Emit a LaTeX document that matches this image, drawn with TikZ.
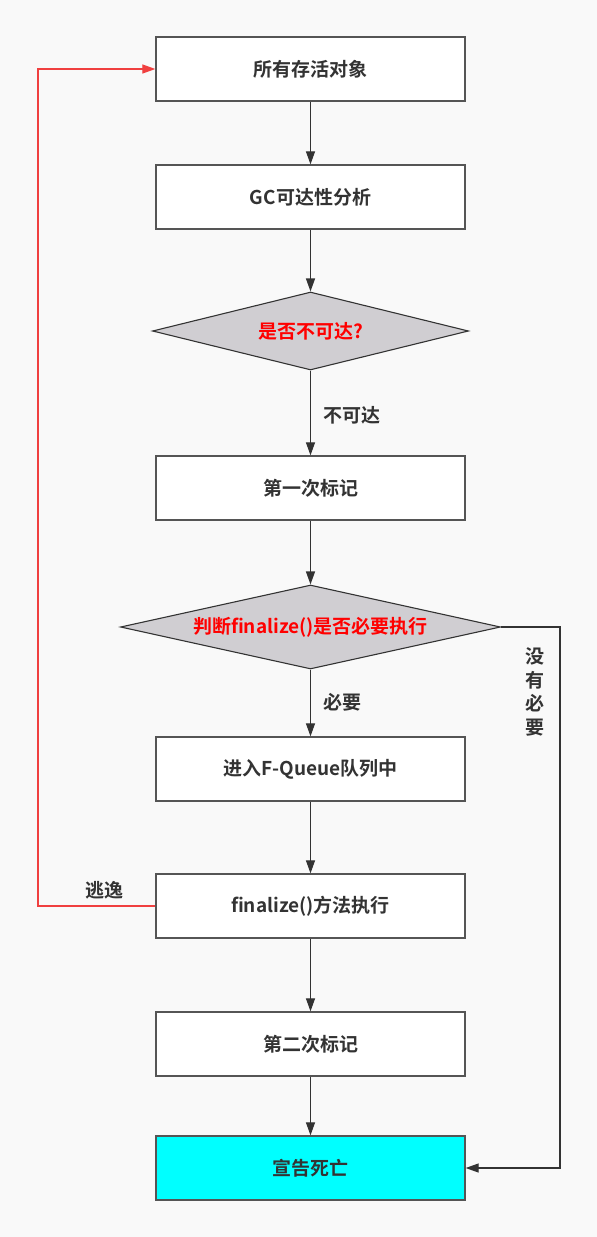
\documentclass[tikz,border=0pt]{standalone}
\usepackage{fontspec}
\setmainfont{Noto Sans CJK SC}[BoldFont={Noto Sans CJK SC Bold}]
\usetikzlibrary{shapes.geometric,arrows.meta}
\definecolor{bgc}{HTML}{F9F9F9}
\definecolor{linec}{HTML}{333333}
\definecolor{boxline}{HTML}{555555}
\definecolor{dfill}{HTML}{D0CED2}
\definecolor{redc}{HTML}{FF0000}
\definecolor{redline}{HTML}{F04040}
\definecolor{cyanc}{HTML}{00FFFF}
\tikzset{
  stepbox/.style={draw=boxline, line width=1.3pt, fill=white, minimum width=309pt, minimum height=64pt, inner sep=0pt, text=linec, font=\fontsize{19}{22}\selectfont\bfseries},
  decision/.style={diamond, draw=linec, line width=1.1pt, fill=dfill, inner sep=0pt, text=redc, font=\fontsize{19}{22}\selectfont\bfseries},
  flow/.style={draw=linec, line width=1.2pt, -{Triangle[length=13pt,width=9pt]}},
  lbl/.style={text=linec, inner sep=0pt, font=\fontsize{19}{23.5}\selectfont\bfseries},
}
\begin{document}
\begin{tikzpicture}[x=1pt,y=-1pt]
\fill[bgc] (0,0) rectangle (597,1237);
\useasboundingbox (0,0) rectangle (597,1237);
\node[stepbox] (b1) at (310.5,69) {所有存活对象};
\node[stepbox] (b2) at (310.5,197) {GC可达性分析};
\node[decision, minimum width=316pt, minimum height=78pt, aspect=4] (d1) at (310.5,331) {是否不可达?};
\node[stepbox] (b3) at (310.5,488) {第一次标记};
\node[decision, minimum width=380pt, minimum height=84pt, aspect=4.5] (d2) at (310.5,627) {判断finalize()是否必要执行};
\node[stepbox] (b4) at (310.5,769) {进入F-Queue队列中};
\node[stepbox] (b5) at (310.5,906) {finalize()方法执行};
\node[stepbox] (b6) at (310.5,1044) {第二次标记};
\node[stepbox, fill=cyanc] (b7) at (310.5,1168) {宣告死亡};
\coordinate (rt) at (560,627);
\coordinate (rb) at (560,1168);
\coordinate (lb) at (38,906);
\coordinate (lt) at (38,69);
\draw[flow] (b1) -- (b2);
\draw[flow] (b2) -- (d1);
\draw[flow] (d1) -- (b3);
\draw[flow] (b3) -- (d2);
\draw[flow] (d2) -- (b4);
\draw[flow] (b4) -- (b5);
\draw[flow] (b5) -- (b6);
\draw[flow] (b6) -- (b7);
\draw[flow] (d2.east) -- (rt) -- (rb) -- (b7.east);
\draw[flow, draw=redline, color=redline] (b5.west) -- (lb) -- (lt) -- (b1.west);
\node[lbl] (l1) at (352,415) {不可达};
\node[lbl] (l2) at (342,702) {必要};
\node[lbl, align=center] (l3) at (535,692) {没\\有\\必\\要};
\node[lbl] (l4) at (104,890) {逃逸};
\end{tikzpicture}
\end{document}
